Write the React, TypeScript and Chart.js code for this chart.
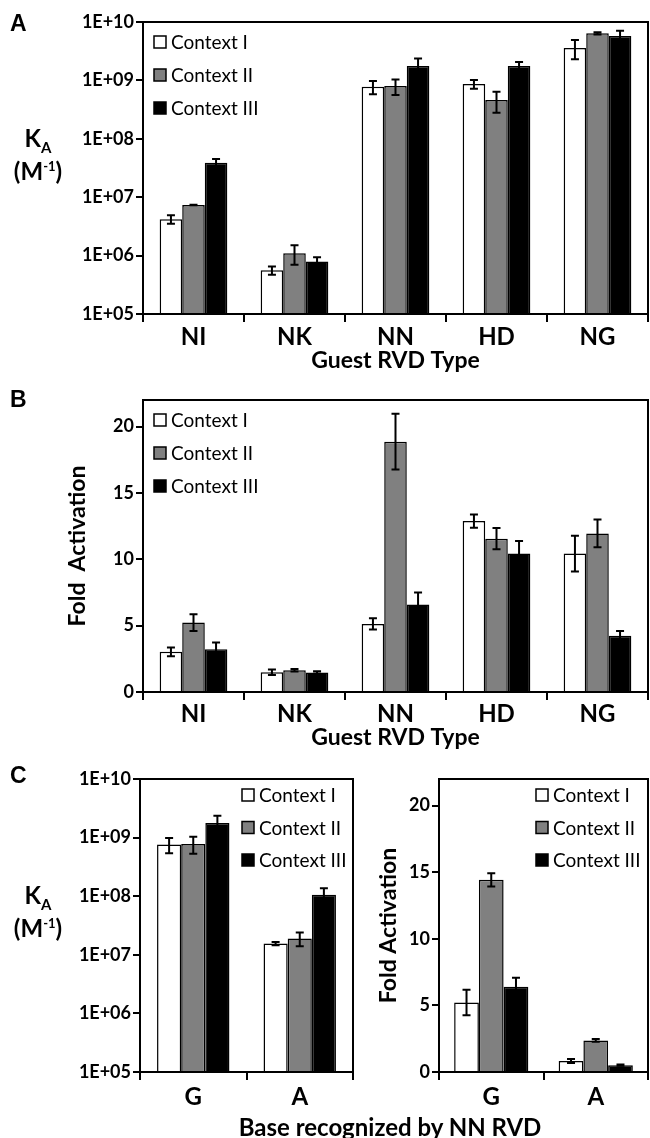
import React, { useEffect, useRef } from "react";
import { Chart, registerables } from "chart.js";
Chart.register(...registerables);

// ---------- data ----------
const rvdTypes = ["NI", "NK", "NN", "HD", "NG"];
const baseTypes = ["G", "A"];
const seriesLabels = ["Context I", "Context II", "Context III"];
const seriesColors = ["#ffffff", "#808080", "#000000"];

const logTicks = [1e5, 1e6, 1e7, 1e8, 1e9, 1e10];
const foldTicks = [0, 5, 10, 15, 20];

// Panel A: K_A (M^-1)
const kaContextI = [4.2e6, 5.6e5, 7.8e8, 8.7e8, 3.6e9];
const kaContextII = [7.35e6, 1.1e6, 8.0e8, 4.6e8, 6.4e9];
const kaContextIII = [3.9e7, 7.9e5, 1.77e9, 1.77e9, 5.75e9];
const kaErrI = [0.7e6, 0.9e5, 2.0e8, 1.5e8, 1.3e9];
const kaErrII = [0.1e6, 0.4e6, 2.4e8, 1.8e8, 0.3e9];
const kaErrIII = [0.6e7, 1.5e5, 0.6e9, 0.3e9, 1.3e9];

// Panel B: fold activation
const foldContextI = [3.03, 1.49, 5.13, 12.88, 10.43];
const foldContextII = [5.23, 1.64, 18.86, 11.55, 11.95];
const foldContextIII = [3.23, 1.47, 6.59, 10.43, 4.24];
const foldErrI = [0.33, 0.2, 0.43, 0.5, 1.35];
const foldErrII = [0.63, 0.1, 2.1, 0.8, 1.05];
const foldErrIII = [0.5, 0.1, 0.9, 0.95, 0.35];

// Panel C left: K_A by base
const cKaContextI = [7.6e8, 1.56e7];
const cKaContextII = [7.8e8, 1.9e7];
const cKaContextIII = [1.77e9, 1.06e8];
const cKaErrI = [2.2e8, 0.1e7];
const cKaErrII = [2.5e8, 0.5e7];
const cKaErrIII = [0.6e9, 0.3e8];

// Panel C right: fold activation by base
const cFoldContextI = [5.22, 0.82];
const cFoldContextII = [14.43, 2.37];
const cFoldContextIII = [6.41, 0.51];
const cFoldErrI = [0.96, 0.15];
const cFoldErrII = [0.5, 0.1];
const cFoldErrIII = [0.67, 0.05];

// ---------- plugins ----------
const FONT = "Lato, 'Open Sans', sans-serif";

const errorBarsPlugin = {
  id: "errorBars",
  afterDatasetsDraw(chart: any) {
    const ctx = chart.ctx;
    const yScale = chart.scales.y;
    ctx.save();
    ctx.strokeStyle = "#000";
    ctx.lineWidth = 2;
    chart.data.datasets.forEach((ds: any, di: number) => {
      const meta = chart.getDatasetMeta(di);
      meta.data.forEach((bar: any, i: number) => {
        const v = ds.data[i];
        const e = ds.errors ? ds.errors[i] : 0;
        if (!e) return;
        const yt = yScale.getPixelForValue(v + e);
        const yb = yScale.getPixelForValue(Math.max(v - e, yScale.min));
        const x = bar.x;
        ctx.beginPath();
        ctx.moveTo(x, yt);
        ctx.lineTo(x, yb);
        ctx.moveTo(x - 4, yt);
        ctx.lineTo(x + 4, yt);
        ctx.moveTo(x - 4, yb);
        ctx.lineTo(x + 4, yb);
        ctx.stroke();
      });
    });
    ctx.restore();
  },
};

const framePlugin = {
  id: "frame",
  afterDraw(chart: any) {
    const { left, top, right, bottom } = chart.chartArea;
    const ctx = chart.ctx;
    ctx.save();
    ctx.strokeStyle = "#000";
    ctx.lineWidth = 2;
    ctx.strokeRect(left, top, right - left, bottom - top);
    ctx.restore();
  },
};

function insideLegend(x: number, y0: number, dy: number) {
  return {
    id: "insideLegend",
    afterDraw(chart: any) {
      const ctx = chart.ctx;
      ctx.save();
      ctx.font = `19px ${FONT}`;
      ctx.textBaseline = "middle";
      chart.data.datasets.forEach((ds: any, i: number) => {
        const y = y0 + i * dy;
        ctx.fillStyle = ds.backgroundColor;
        ctx.fillRect(x, y - 6, 12, 12);
        ctx.lineWidth = 1.5;
        ctx.strokeStyle = "#000";
        ctx.strokeRect(x, y - 6, 12, 12);
        ctx.fillStyle = "#000";
        ctx.fillText(ds.label, x + 17, y + 1);
      });
      ctx.restore();
    },
  };
}

// ---------- chart component ----------
type PanelProps = {
  left: number;
  top: number;
  width: number;
  height: number;
  labels: string[];
  series: number[][];
  errors: number[][];
  log: boolean;
  pad: { top: number; right: number };
  yWidth: number;
  xHeight: number;
  xTickPad: number;
  catPct: number;
  xTitle?: string;
  xTitlePad?: number;
  yTitle?: string;
  yTitlePad?: number;
  legend: [number, number, number];
};

function Panel(p: PanelProps) {
  const ref = useRef<HTMLCanvasElement | null>(null);
  useEffect(() => {
    if (!ref.current) return;
    const datasets = p.series.map((d, i) => ({
      label: seriesLabels[i],
      data: d,
      errors: p.errors[i],
      backgroundColor: seriesColors[i],
      borderColor: "#000",
      borderWidth: 1.5,
      barPercentage: 1,
      categoryPercentage: p.catPct,
    }));
    const yScale: any = p.log
      ? {
          type: "logarithmic",
          min: logTicks[0],
          max: logTicks[logTicks.length - 1],
          afterBuildTicks: (s: any) => {
            s.ticks = logTicks.map((v) => ({ value: v }));
          },
          ticks: {
            callback: (v: any) => "1E+" + String(Math.round(Math.log10(v))).padStart(2, "0"),
          },
        }
      : {
          type: "linear",
          min: 0,
          max: 22,
          afterBuildTicks: (s: any) => {
            s.ticks = foldTicks.map((v) => ({ value: v }));
          },
        };
    const chart = new Chart(ref.current, {
      type: "bar",
      data: { labels: p.labels, datasets: datasets as any },
      plugins: [errorBarsPlugin, framePlugin, insideLegend(p.legend[0], p.legend[1], p.legend[2])],
      options: {
        animation: false,
        responsive: false,
        maintainAspectRatio: false,
        layout: { padding: { top: p.pad.top, right: p.pad.right, left: 0, bottom: 0 } },
        plugins: { legend: { display: false }, tooltip: { enabled: false } },
        scales: {
          x: {
            grid: {
              offset: true,
              drawOnChartArea: false,
              drawTicks: true,
              tickLength: 8,
              color: "#000",
              lineWidth: 2,
            },
            border: { display: true, color: "#000", width: 2 },
            ticks: {
              color: "#000",
              padding: p.xTickPad,
              font: { family: FONT, size: 24, weight: "bold" },
              maxRotation: 0,
            },
            title: p.xTitle
              ? {
                  display: true,
                  text: p.xTitle,
                  color: "#000",
                  font: { family: FONT, size: 23, weight: "bold" },
                  padding: { top: 0, bottom: p.xTitlePad || 0 },
                }
              : { display: false },
            afterFit: (s: any) => {
              s.height = p.xHeight;
            },
          },
          y: {
            ...yScale,
            grid: {
              drawOnChartArea: false,
              drawTicks: true,
              tickLength: 7,
              color: "#000",
              lineWidth: 2,
            },
            border: { display: true, color: "#000", width: 2 },
            ticks: {
              ...(yScale.ticks || {}),
              color: "#000",
              padding: 2,
              font: { family: FONT, size: 18, weight: "bold" },
            },
            title: p.yTitle
              ? {
                  display: true,
                  text: p.yTitle,
                  color: "#000",
                  font: { family: FONT, size: 23, weight: "bold" },
                  padding: { top: p.yTitlePad || 0, bottom: 0 },
                }
              : { display: false },
            afterFit: (s: any) => {
              s.width = p.yWidth;
            },
          },
        },
      } as any,
    });
    return () => chart.destroy();
  }, []);
  return (
    <canvas
      ref={ref}
      width={p.width}
      height={p.height}
      style={{ position: "absolute", left: p.left, top: p.top, width: p.width, height: p.height }}
    />
  );
}

const letterStyle: React.CSSProperties = {
  position: "absolute",
  font: "bold 23px 'Liberation Sans', Arial, sans-serif",
  lineHeight: "23px",
};

function KaLabel({ left, top }: { left: number; top: number }) {
  return (
    <div
      style={{
        position: "absolute",
        left,
        top,
        width: 56,
        textAlign: "center",
        font: `bold 24px ${FONT}`,
        lineHeight: "30px",
        whiteSpace: "nowrap",
      }}
    >
      <div>
        K<span style={{ fontSize: 15, position: "relative", top: 6 }}>A</span>
      </div>
      <div>
        (M<span style={{ fontSize: 13, position: "relative", top: -9 }}>-1</span>)
      </div>
    </div>
  );
}

export default function App() {
  return (
    <div
      style={{
        position: "absolute",
        left: 0,
        top: 0,
        width: 650,
        height: 1138,
        background: "#fff",
        fontFamily: FONT,
      }}
    >
      <Panel
        left={0}
        top={0}
        width={650}
        height={375}
        labels={rvdTypes}
        series={[kaContextI, kaContextII, kaContextIII]}
        errors={[kaErrI, kaErrII, kaErrIII]}
        log={true}
        pad={{ top: 22, right: 2 }}
        yWidth={143}
        xHeight={61}
        xTickPad={1}
        catPct={0.67}
        xTitle="Guest RVD Type"
        xTitlePad={1}
        legend={[154, 42, 33]}
      />
      <Panel
        left={0}
        top={380}
        width={650}
        height={375}
        labels={rvdTypes}
        series={[foldContextI, foldContextII, foldContextIII]}
        errors={[foldErrI, foldErrII, foldErrIII]}
        log={false}
        pad={{ top: 20, right: 2 }}
        yWidth={143}
        xHeight={63}
        xTickPad={0}
        catPct={0.67}
        xTitle="Guest RVD Type"
        xTitlePad={4}
        yTitle="Fold  Activation"
        yTitlePad={64}
        legend={[154, 40, 33]}
      />
      <Panel
        left={0}
        top={760}
        width={360}
        height={360}
        labels={baseTypes}
        series={[cKaContextI, cKaContextII, cKaContextIII]}
        errors={[cKaErrI, cKaErrII, cKaErrIII]}
        log={true}
        pad={{ top: 19, right: 7 }}
        yWidth={140}
        xHeight={48}
        xTickPad={3}
        catPct={0.68}
        legend={[242, 35, 32.5]}
      />
      <Panel
        left={360}
        top={760}
        width={290}
        height={360}
        labels={baseTypes}
        series={[cFoldContextI, cFoldContextII, cFoldContextIII]}
        errors={[cFoldErrI, cFoldErrII, cFoldErrIII]}
        log={false}
        pad={{ top: 19, right: 2 }}
        yWidth={79}
        xHeight={48}
        xTickPad={3}
        catPct={0.71}
        yTitle="Fold Activation"
        yTitlePad={15}
        legend={[176, 35, 32.5]}
      />
      <div style={{ ...letterStyle, left: 10, top: 12 }}>A</div>
      <div style={{ ...letterStyle, left: 10, top: 388 }}>B</div>
      <div style={{ ...letterStyle, left: 10, top: 764 }}>C</div>
      <KaLabel left={10} top={123} />
      <KaLabel left={10} top={880} />
      <div
        style={{
          position: "absolute",
          left: 190,
          width: 400,
          top: 1112,
          textAlign: "center",
          font: `bold 24px ${FONT}`,
          lineHeight: "30px",
        }}
      >
        Base recognized by NN RVD
      </div>
    </div>
  );
}
